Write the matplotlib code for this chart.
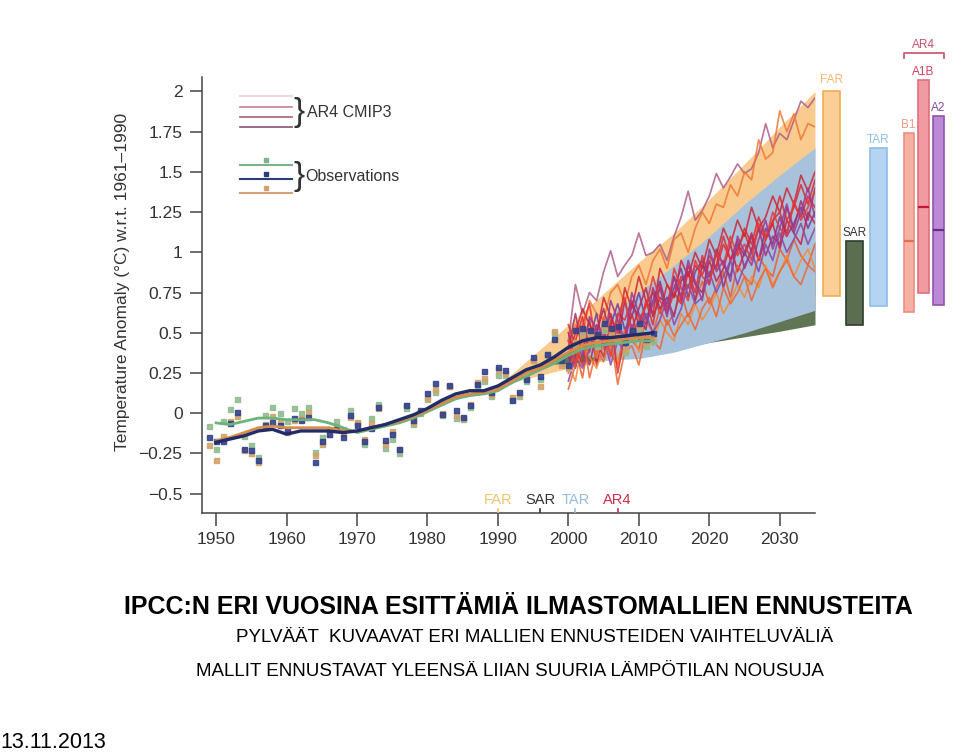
import matplotlib
matplotlib.use("Agg")
import matplotlib.pyplot as plt

plt.rcParams['font.family'] = ['Liberation Sans', 'DejaVu Sans']

# observations (annual) -- green, orange, blue datasets
obs_years = list(range(1949, 2013))
obs_green = [-0.08, -0.22, -0.05, 0.025, 0.09, -0.14, -0.195, -0.27, -0.01, 0.04,
             0.004, -0.05, 0.03, 0.002, 0.04, -0.24, -0.15, -0.10, -0.05, -0.10,
             0.02, -0.06, -0.193, -0.03, 0.056, -0.219, -0.16, -0.246, 0.03, -0.068,
             0.0, 0.09, 0.13, -0.01, 0.17, -0.027, -0.033, 0.04, 0.174, 0.20,
             0.11, 0.24, 0.24, 0.09, 0.11, 0.20, 0.33, 0.21, 0.36, 0.50,
             0.31, 0.29, 0.42, 0.49, 0.48, 0.42, 0.52, 0.48, 0.47, 0.38,
             0.47, 0.52, 0.42, 0.45]
obs_orange = [-0.20, -0.29, -0.14, -0.05, -0.02, -0.23, -0.25, -0.30, -0.064, -0.02,
              -0.05, -0.116, -0.043, -0.03, 0.008, -0.26, -0.19, -0.126, -0.08, -0.12,
              -0.023, -0.055, -0.157, -0.06, 0.03, -0.19, -0.11, -0.22, 0.05, -0.053,
              0.01, 0.093, 0.15, 0.0, 0.168, -0.012, -0.03, 0.056, 0.195, 0.22,
              0.12, 0.267, 0.25, 0.10, 0.12, 0.22, 0.33, 0.17, 0.37, 0.51,
              0.30, 0.28, 0.44, 0.48, 0.50, 0.44, 0.54, 0.50, 0.48, 0.40,
              0.48, 0.54, 0.44, 0.47]
obs_blue = [-0.15, -0.17, -0.17, -0.06, 0.01, -0.22, -0.23, -0.29, -0.07, -0.055,
            -0.075, -0.10, -0.03, -0.043, -0.023, -0.30, -0.17, -0.13, -0.10, -0.147,
            -0.01, -0.07, -0.17, -0.09, 0.04, -0.168, -0.13, -0.22, 0.05, -0.04,
            0.023, 0.128, 0.188, -0.002, 0.174, 0.019, -0.023, 0.05, 0.18, 0.263,
            0.13, 0.29, 0.27, 0.08, 0.13, 0.21, 0.35, 0.23, 0.37, 0.46,
            0.33, 0.30, 0.52, 0.53, 0.52, 0.49, 0.56, 0.53, 0.54, 0.44,
            0.52, 0.56, 0.46, 0.50]

# smoothed observations
smooth_years = list(range(1950, 2013, 2))
smooth_green = [-0.06, -0.07, -0.05, -0.03, -0.03, -0.04, -0.04, -0.04, -0.06, -0.09,
                -0.12, -0.10, -0.08, -0.06, -0.03, 0.01, 0.05, 0.09, 0.11, 0.12,
                0.14, 0.19, 0.23, 0.27, 0.31, 0.36, 0.40, 0.42, 0.43, 0.44, 0.45, 0.45]
smooth_orange = [-0.17, -0.15, -0.12, -0.09, -0.08, -0.09, -0.09, -0.09, -0.09, -0.11,
                 -0.11, -0.09, -0.07, -0.05, -0.02, 0.02, 0.06, 0.10, 0.12, 0.13,
                 0.15, 0.20, 0.25, 0.28, 0.33, 0.38, 0.42, 0.44, 0.45, 0.46, 0.47, 0.47]
smooth_blue = [-0.18, -0.16, -0.14, -0.11, -0.10, -0.13, -0.11, -0.11, -0.11, -0.12,
               -0.11, -0.09, -0.07, -0.04, -0.01, 0.03, 0.08, 0.12, 0.14, 0.14,
               0.17, 0.22, 0.27, 0.30, 0.35, 0.41, 0.45, 0.47, 0.47, 0.48, 0.49, 0.50]

# projection ranges of earlier assessments
far_years = [1990, 2000, 2010, 2015, 2020, 2025, 2030, 2035]
far_upper = [0.17, 0.55, 0.94, 1.12, 1.33, 1.55, 1.78, 2.00]
far_lower = [0.17, 0.28, 0.37, 0.42, 0.48, 0.55, 0.63, 0.73]
sar_years = [1996, 2000, 2010, 2020, 2030, 2035]
sar_upper = [0.30, 0.38, 0.55, 0.76, 0.96, 1.07]
sar_lower = [0.30, 0.31, 0.36, 0.44, 0.51, 0.55]
tar_years = [2001, 2005, 2010, 2015, 2020, 2025, 2030, 2035]
tar_upper = [0.42, 0.58, 0.75, 0.92, 1.10, 1.30, 1.48, 1.65]
tar_lower = [0.38, 0.33, 0.34, 0.38, 0.44, 0.50, 0.57, 0.64]

# AR4 CMIP3 model runs, 2000-2035
model_years = list(range(2000, 2036))
model_runs = [
    [0.45, 0.80, 0.62, 0.75, 0.70, 0.88, 1.01, 0.85, 0.92, 0.98, 1.12, 0.98, 1.00, 1.05, 0.95, 1.10, 1.22, 1.38,
     1.20, 1.26, 1.35, 1.49, 1.40, 1.47, 1.55, 1.49, 1.52, 1.62, 1.80, 1.65, 1.74, 1.70, 1.82, 1.94, 1.90, 1.96],
    [0.40, 0.55, 0.48, 0.70, 0.62, 0.58, 0.75, 0.80, 0.68, 0.85, 0.92, 0.80, 0.95, 1.02, 0.90, 1.08, 1.12, 1.00,
     1.15, 1.25, 1.18, 1.30, 1.28, 1.42, 1.35, 1.50, 1.45, 1.70, 1.58, 1.62, 1.88, 1.75, 1.86, 1.70, 1.80, 1.78],
    [0.30, 0.45, 0.60, 0.38, 0.55, 0.50, 0.42, 0.62, 0.58, 0.70, 0.55, 0.68, 0.75, 0.62, 0.80, 0.72, 0.85, 0.78,
     0.92, 0.86, 0.98, 0.90, 1.05, 0.96, 1.02, 1.12, 1.00, 1.15, 1.08, 1.20, 1.25, 1.12, 1.30, 1.22, 1.35, 1.28],
    [0.35, 0.28, 0.50, 0.45, 0.62, 0.40, 0.55, 0.68, 0.52, 0.60, 0.75, 0.58, 0.70, 0.82, 0.65, 0.78, 0.90, 0.72,
     0.88, 0.95, 0.80, 1.02, 0.92, 0.85, 1.05, 0.98, 1.10, 0.95, 1.15, 1.05, 1.22, 1.10, 1.18, 1.28, 1.15, 1.25],
    [0.50, 0.35, 0.42, 0.58, 0.30, 0.48, 0.62, 0.45, 0.70, 0.52, 0.65, 0.78, 0.60, 0.72, 0.68, 0.85, 0.70, 0.92,
     0.80, 0.75, 0.95, 0.82, 0.90, 1.05, 0.88, 1.00, 1.12, 0.95, 1.08, 1.18, 1.02, 1.20, 1.12, 1.05, 1.25, 1.18],
    [0.25, 0.40, 0.22, 0.48, 0.35, 0.60, 0.38, 0.30, 0.52, 0.45, 0.40, 0.58, 0.50, 0.65, 0.55, 0.62, 0.75, 0.60,
     0.70, 0.82, 0.68, 0.78, 0.88, 0.72, 0.92, 0.85, 0.80, 0.98, 0.90, 0.85, 1.02, 0.95, 1.08, 0.98, 0.92, 1.05],
    [0.40, 0.62, 0.38, 0.30, 0.50, 0.65, 0.48, 0.55, 0.42, 0.68, 0.60, 0.52, 0.78, 0.65, 0.72, 0.60, 0.82, 0.88,
     0.70, 0.92, 0.85, 1.00, 0.78, 0.95, 1.08, 0.90, 1.02, 1.15, 0.98, 1.10, 1.05, 1.28, 1.15, 1.32, 1.20, 1.40],
    [0.30, 0.20, 0.45, 0.35, 0.28, 0.42, 0.55, 0.32, 0.40, 0.50, 0.38, 0.48, 0.42, 0.58, 0.50, 0.45, 0.62, 0.55,
     0.68, 0.58, 0.65, 0.75, 0.62, 0.70, 0.80, 0.72, 0.85, 0.78, 0.92, 0.80, 0.88, 0.98, 0.85, 0.95, 1.02, 0.90],
    [0.55, 0.42, 0.30, 0.52, 0.45, 0.35, 0.58, 0.25, 0.48, 0.62, 0.45, 0.70, 0.55, 0.80, 0.62, 0.75, 0.68, 0.88,
     0.75, 0.98, 0.85, 0.92, 1.10, 0.95, 1.00, 1.15, 1.05, 1.22, 1.10, 1.18, 1.35, 1.20, 1.28, 1.42, 1.30, 1.45],
    [0.20, 0.35, 0.28, 0.40, 0.55, 0.48, 0.30, 0.45, 0.38, 0.55, 0.48, 0.62, 0.50, 0.58, 0.72, 0.55, 0.65, 0.80,
     0.68, 0.72, 0.88, 0.75, 0.85, 0.95, 0.80, 0.92, 1.00, 0.88, 1.05, 0.95, 1.12, 1.00, 1.08, 1.18, 1.05, 1.15],
    [0.15, 0.30, 0.50, 0.22, 0.40, 0.32, 0.48, 0.18, 0.38, 0.42, 0.30, 0.50, 0.45, 0.40, 0.58, 0.48, 0.55, 0.62,
     0.52, 0.65, 0.72, 0.60, 0.78, 0.68, 0.75, 0.85, 0.70, 0.82, 0.90, 0.78, 0.88, 0.95, 0.85, 0.80, 0.92, 0.88],
    [0.35, 0.50, 0.65, 0.55, 0.48, 0.72, 0.60, 0.50, 0.78, 0.65, 0.85, 0.70, 0.62, 0.90, 0.80, 0.72, 0.95, 0.85,
     1.00, 0.90, 1.08, 0.98, 1.15, 1.05, 1.20, 1.10, 1.28, 1.15, 1.22, 1.35, 1.25, 1.40, 1.30, 1.48, 1.38, 1.50],
    [0.45, 0.30, 0.55, 0.68, 0.40, 0.52, 0.35, 0.60, 0.72, 0.48, 0.58, 0.66, 0.85, 0.70, 0.62, 0.90, 0.78, 0.70,
     0.95, 0.85, 0.80, 1.00, 0.92, 1.10, 0.98, 1.05, 0.95, 1.18, 1.08, 1.25, 1.15, 1.10, 1.32, 1.20, 1.28, 1.38],
    [0.28, 0.45, 0.35, 0.60, 0.52, 0.42, 0.70, 0.58, 0.45, 0.75, 0.62, 0.55, 0.68, 0.78, 0.60, 0.85, 0.72, 0.95,
     0.82, 0.70, 1.02, 0.88, 0.95, 0.82, 1.10, 1.00, 0.92, 1.08, 1.20, 1.02, 1.15, 1.30, 1.12, 1.25, 1.40, 1.22],
]
model_colors = ['#b06088', '#f07838', '#e02a30', '#7a3a98', '#c82048', '#f05a28', '#a82c68',
                '#f58a38', '#dc2c30', '#8a4aa8', '#ee6630', '#cc2838', '#e43a3a', '#9a3a90']

# range bars at the right
bar_names = ['FAR', 'SAR', 'TAR', 'B1', 'A1B', 'A2']
bar_x = [2037.3, 2040.6, 2044.0, 2048.3, 2050.35, 2052.5]
bar_w = [2.4, 2.4, 2.4, 1.4, 1.55, 1.55]
bar_low = [0.73, 0.55, 0.665, 0.63, 0.75, 0.67]
bar_high = [2.0, 1.07, 1.65, 1.74, 2.07, 1.85]
bar_mid = [None, None, None, 1.07, 1.28, 1.14]
bar_face = ['#fbcf96', '#5b6e52', '#b4d4f2', '#f6b1a4', '#f19aa2', '#bb8ad6']
bar_edge = ['#f2aa55', '#2f3d2c', '#8cbde8', '#ec8f80', '#e0707e', '#9055b0']
bar_midc = [None, None, None, '#e07050', '#c01838', '#6a2b8a']
bar_label_y = [2.07, 1.12, 1.70, 1.79, 2.12, 1.90]
bar_label_c = ['#f5b870', '#333333', '#8fbfe6', '#f09a8a', '#d04060', '#8a4aa8']

# assessment markers on the time axis
assess_names = ['FAR', 'SAR', 'TAR', 'AR4']
assess_years = [1990, 1996, 2001, 2007]
assess_colors = ['#f3c46e', '#333333', '#93bde0', '#c8304a']

fig = plt.figure(figsize=(9.6, 7.53), dpi=100)
ax = fig.add_axes([202 / 960, 1 - 513 / 753, 613 / 960, 436 / 753])

ax.fill_between(far_years, far_lower, far_upper, color='#f9c27c', alpha=0.85, lw=0, zorder=1)
ax.fill_between(sar_years, sar_lower, sar_upper, color='#5f7553', lw=0, zorder=2)
ax.fill_between(tar_years, tar_lower, tar_upper, color='#a8c2dc', lw=0, zorder=3)

for run, c in zip(model_runs, model_colors):
    ax.plot(model_years, run, color=c, lw=1.25, alpha=0.85, zorder=4)

ax.plot(obs_years, obs_green, 's', color='#8fbc90', ms=3.6, alpha=0.9, zorder=5)
ax.plot(obs_years, obs_orange, 's', color='#d4a268', ms=3.6, alpha=0.9, zorder=5)
ax.plot(obs_years, obs_blue, 's', color='#34438c', ms=3.6, alpha=0.9, zorder=5)
ax.plot(smooth_years, smooth_green, color='#6cb27c', lw=2, zorder=6)
ax.plot(smooth_years, smooth_orange, color='#d98c4a', lw=2, zorder=6)
ax.plot(smooth_years, smooth_blue, color='#222c66', lw=2.4, zorder=7)

for i, name in enumerate(bar_names):
    ax.bar(bar_x[i], bar_high[i] - bar_low[i], bottom=bar_low[i], width=bar_w[i],
           color=bar_face[i], edgecolor=bar_edge[i], lw=1.2, clip_on=False, zorder=3)
    if bar_mid[i] is not None:
        ax.hlines(bar_mid[i], bar_x[i] - bar_w[i] / 2, bar_x[i] + bar_w[i] / 2,
                  color=bar_midc[i], lw=1.6, clip_on=False, zorder=4)
    ax.text(bar_x[i], bar_label_y[i], name, color=bar_label_c[i], fontsize=8.5,
            ha='center', va='center', clip_on=False)

# AR4 bracket over the scenario bars
ax.plot([2047.6, 2047.6, 2053.3, 2053.3], [2.21, 2.24, 2.24, 2.21], color='#c8506a',
        lw=1.2, clip_on=False)
ax.text(2050.45, 2.29, 'AR4', color='#c8506a', fontsize=8.5, ha='center', va='center',
        clip_on=False)

for name, yr, c in zip(assess_names, assess_years, assess_colors):
    ax.plot([yr, yr], [-0.62, -0.595], color=c, lw=1.2, zorder=8)
    ax.text(yr, -0.54, name, color=c, fontsize=10.5, ha='center', va='center')

# legend drawn by hand
leg_ar4 = ['#f0d4d8', '#cc8a9c', '#b06c8a', '#946080']
for k, c in enumerate(leg_ar4):
    y = 0.956 - k * 0.0237
    ax.plot([0.062, 0.147], [y, y], color=c, lw=1.3, transform=ax.transAxes)
ax.text(0.150, 0.918, '}', fontsize=24, va='center', ha='left', color='#333333',
        transform=ax.transAxes)
ax.text(0.172, 0.918, 'AR4 CMIP3', fontsize=11.5, va='center', ha='left', color='#333333',
        transform=ax.transAxes)
leg_obs = ['#7ab48a', '#2e3a80', '#d6a070']
for k, c in enumerate(leg_obs):
    y = 0.798 - k * 0.032
    ax.plot([0.062, 0.147], [y, y], color=c, lw=1.5, transform=ax.transAxes)
    ax.plot([0.104], [y + 0.012], 's', color=c, ms=3, transform=ax.transAxes)
ax.text(0.150, 0.772, '}', fontsize=24, va='center', ha='left', color='#333333',
        transform=ax.transAxes)
ax.text(0.169, 0.772, 'Observations', fontsize=11.5, va='center', ha='left', color='#333333',
        transform=ax.transAxes)

ax.set_xlim(1948, 2035)
ax.set_ylim(-0.62, 2.09)
yt = [-0.5, -0.25, 0, 0.25, 0.5, 0.75, 1, 1.25, 1.5, 1.75, 2]
ax.set_yticks(yt)
ax.set_yticklabels(['\u22120.5', '\u22120.25', '0', '0.25', '0.5', '0.75', '1', '1.25', '1.5',
                    '1.75', '2'])
ax.set_xticks(range(1950, 2031, 10))
ax.tick_params(axis='both', length=9, width=1.1, color='#444444', labelcolor='#333333',
               labelsize=12.5, pad=5)
for s in ['top', 'right']:
    ax.spines[s].set_visible(False)
for s in ['left', 'bottom']:
    ax.spines[s].set_color('#444444')
    ax.spines[s].set_linewidth(1.1)
ax.set_ylabel('Temperature Anomaly (\u00b0C) w.r.t. 1961\u20131990', fontsize=12.5,
              color='#333333')
ax.yaxis.set_label_coords(-0.117, 0.53)

fig.text(0.54, 0.194, 'IPCC:N ERI VUOSINA ESITTÄMIÄ ILMASTOMALLIEN ENNUSTEITA',
         fontsize=18, fontweight='bold', ha='center', va='center')
fig.text(0.557, 0.153, 'PYLVÄÄT  KUVAAVAT ERI MALLIEN ENNUSTEIDEN VAIHTELUVÄLIÄ',
         fontsize=13.5, ha='center', va='center')
fig.text(0.531, 0.108, 'MALLIT ENNUSTAVAT YLEENSÄ LIIAN SUURIA LÄMPÖTILAN NOUSUJA',
         fontsize=13.5, ha='center', va='center')
fig.text(0.0, 0.0146, '13.11.2013', fontsize=15.5, ha='left', va='center')

fig.savefig('out.png', dpi=100, facecolor='white')
